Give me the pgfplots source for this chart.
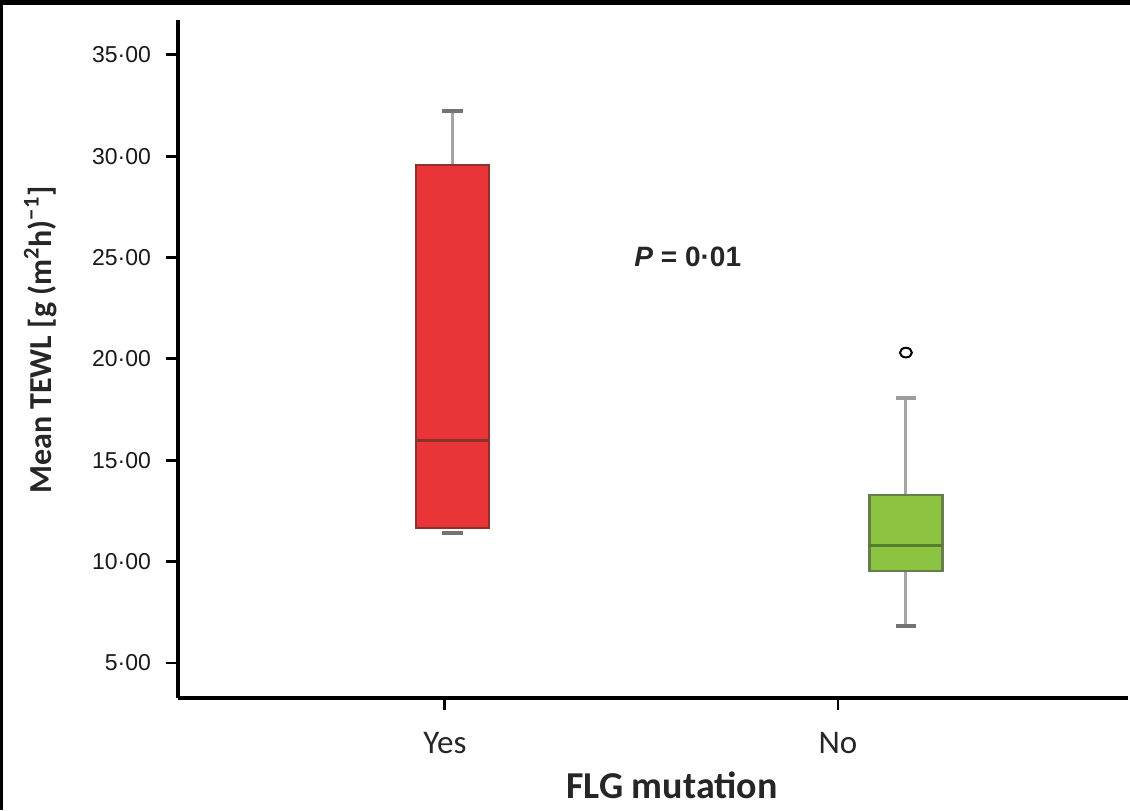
\documentclass[border=0pt]{standalone}
\usepackage{fontspec}
\setmainfont{Liberation Sans}
\newfontfamily\carlito{Carlito}
\usepackage{pgfplots}
\pgfplotsset{compat=1.18}
\definecolor{boxred}{RGB}{233,52,56}
\definecolor{redline}{RGB}{140,50,45}
\definecolor{boxgreen}{RGB}{140,196,66}
\definecolor{greenline}{RGB}{85,125,45}
\definecolor{whiskgray}{RGB}{165,165,165}
\definecolor{capgray}{RGB}{115,115,115}
\begin{document}
\begin{tikzpicture}
\path[use as bounding box] (0,0) rectangle (565pt,405pt);
\fill[black] (0,402.5pt) rectangle (565pt,405pt);
\fill[black] (0,0) rectangle (1.5pt,405pt);
\begin{axis}[
  at={(89pt,56pt)}, anchor=south west,
  scale only axis, width=475pt, height=339pt,
  xmin=0.321, xmax=2.738, ymin=3.27, ymax=36.72,
  axis x line*=bottom, axis y line*=left,
  axis line style={line width=1.6pt, -},
  tick style={line width=1.4pt, black},
  tick align=outside, major tick length=6pt,
  xtick={1,2}, xticklabels={Yes,No},
  ytick={5,10,15,20,25,30,35},
  yticklabels={5·00,10·00,15·00,20·00,25·00,30·00,35·00},
  yticklabel style={font=\fontsize{11.5}{12}\selectfont, text=black!90, xshift=-4pt},
  xticklabel style={font=\carlito\fontsize{16.5}{16.5}\selectfont, text=black!85, yshift=-7.5pt},
  xlabel={FLG mutation},
  xlabel style={font=\carlito\bfseries\fontsize{19}{19}\selectfont, text=black!85, at={(axis description cs:0.52,-0.128)}, anchor=center},
  ylabel={Mean TEWL [g (m\textsuperscript{2}h)\textsuperscript{−1}]},
  ylabel style={font=\carlito\bfseries\fontsize{16}{16}\selectfont, text=black!85, at={(axis description cs:-0.145,0.528)}, anchor=center, rotate=0},
  clip=false,
]
% --- Yes group: whiskers, box, median
\addplot[whiskgray, line width=1.5pt] coordinates {(1.02,29.57) (1.02,32.25)};
\addplot[capgray, line width=2pt] coordinates {(0.9935,32.25) (1.0465,32.25)};
\addplot[capgray, line width=2pt] coordinates {(0.9935,11.4) (1.0465,11.4)};
\addplot[draw=redline, fill=boxred, line width=1.2pt] coordinates {(0.927,11.66) (1.113,11.66) (1.113,29.57) (0.927,29.57)} -- cycle;
\addplot[redline, line width=1.5pt] coordinates {(0.927,15.95) (1.113,15.95)};
% --- No group
\addplot[whiskgray, line width=1.5pt] coordinates {(2.173,13.29) (2.173,18.07)};
\addplot[whiskgray, line width=1.5pt] coordinates {(2.173,6.83) (2.173,9.54)};
\addplot[capgray!70!white, line width=2pt] coordinates {(2.1465,18.07) (2.1995,18.07)};
\addplot[capgray, line width=2pt] coordinates {(2.1465,6.83) (2.1995,6.83)};
\addplot[draw=greenline!60!gray, fill=boxgreen, line width=1.2pt] coordinates {(2.08,9.54) (2.266,9.54) (2.266,13.29) (2.08,13.29)} -- cycle;
\addplot[greenline, line width=1.5pt] coordinates {(2.08,10.77) (2.266,10.77)};
% outlier
\addplot[only marks, mark=o, mark size=3pt, mark options={draw=black, fill=white, line width=1pt, yscale=0.8}] coordinates {(2.173,20.31)};
\node[font=\bfseries\fontsize{14}{14}\selectfont, text=black!85] at (axis cs:1.618,25.03) {\textit{P} = 0·01};
\end{axis}
\end{tikzpicture}
\end{document}
